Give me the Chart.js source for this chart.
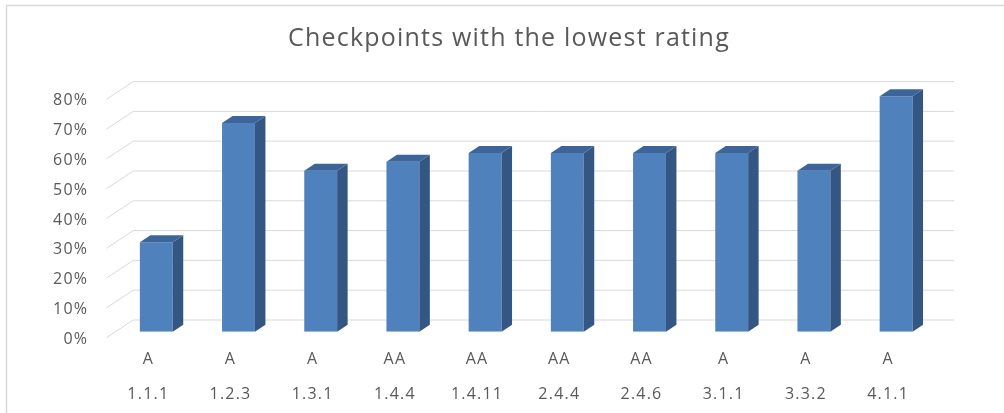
<!DOCTYPE html>
<html>
<head>
<meta charset="utf-8">
<script src="https://cdn.jsdelivr.net/npm/chart.js@4"></script>
<style>
  body { margin: 0; background: #fff; }
  #wrap { width: 1004px; height: 413px; }
</style>
</head>
<body>
<div id="wrap"><canvas id="lowest"></canvas></div>
<script>
const codes = ['1.1.1', '1.2.3', '1.3.1', '1.4.4', '1.4.11', '2.4.4', '2.4.6', '3.1.1', '3.3.2', '4.1.1'];
const levels = ['A', 'A', 'A', 'AA', 'AA', 'AA', 'AA', 'A', 'A', 'A'];
const ratings = [0.30, 0.70, 0.54, 0.57, 0.60, 0.60, 0.60, 0.60, 0.54, 0.79];
const yTicks = [0, 0.1, 0.2, 0.3, 0.4, 0.5, 0.6, 0.7, 0.8];

const textGrey = '#595959';
const gridGrey = '#d9d9d9';

// fake 3d: back wall sits up and to the right of the bar fronts
const wall = { dx: 18, dy: 11.7, frontX: 106.5, frontDy: 6 };
const depth = { dx: 10.5, dy: 7 };

const frame3d = {
  id: 'frame3d',
  beforeDraw(chart) {
    const c = chart.ctx;
    c.save();
    c.fillStyle = '#fff';
    c.fillRect(0, 0, chart.width, chart.height);
    c.strokeStyle = gridGrey;
    c.lineWidth = 1.5;
    c.strokeRect(6.5, 5.5, chart.width + 20, chart.height + 20);
    c.restore();
    // the original text is set a bit wide
    c.letterSpacing = '1.2px';
  },
  beforeDatasetsDraw(chart) {
    const c = chart.ctx;
    const y = chart.scales.y;
    const area = chart.chartArea;
    c.save();
    c.strokeStyle = gridGrey;
    c.lineWidth = 1;
    yTicks.forEach(v => {
      const py = y.getPixelForValue(v);
      const back = py - wall.dy;
      c.beginPath();
      c.moveTo(wall.frontX, py + wall.frontDy);
      c.lineTo(area.left + wall.dx, back);
      c.lineTo(area.right + 17, back);
      c.stroke();
    });
    c.restore();
  },
  afterDatasetsDraw(chart) {
    const c = chart.ctx;
    c.save();
    chart.getDatasetMeta(0).data.forEach(bar => {
      const { x, y, base, width } = bar.getProps(['x', 'y', 'base', 'width'], true);
      const l = x - width / 2, r = x + width / 2;
      c.fillStyle = '#335683';
      c.beginPath();
      c.moveTo(r, y);
      c.lineTo(r + depth.dx, y - depth.dy);
      c.lineTo(r + depth.dx, base - depth.dy);
      c.lineTo(r, base);
      c.closePath();
      c.fill();
      c.fillStyle = '#3d659a';
      c.beginPath();
      c.moveTo(l, y);
      c.lineTo(l + depth.dx, y - depth.dy);
      c.lineTo(r + depth.dx, y - depth.dy);
      c.lineTo(r, y);
      c.closePath();
      c.fill();
    });
    c.restore();
  }
};

new Chart(document.getElementById('lowest'), {
  type: 'bar',
  data: {
    labels: codes.map((code, i) => [levels[i], code]),
    datasets: [{
      label: 'Rating',
      data: ratings,
      backgroundColor: '#4f81bd',
      barPercentage: 0.4,
      categoryPercentage: 1
    }]
  },
  options: {
    responsive: true,
    maintainAspectRatio: false,
    animation: false,
    layout: { padding: { left: 14, right: 0, top: 0, bottom: 0 } },
    plugins: {
      legend: { display: false },
      tooltip: { enabled: false },
      title: {
        display: true,
        text: 'Checkpoints with the lowest rating',
        color: textGrey,
        font: { family: 'Open Sans', size: 25, weight: 'normal', lineHeight: 1.2 },
        padding: { top: 23.5, bottom: 39.8 }
      }
    },
    scales: {
      x: {
        grid: { display: false, drawTicks: false },
        border: { display: false },
        ticks: {
          color: textGrey,
          font: { family: 'Open Sans', size: 16, lineHeight: 2.2 },
          padding: 10,
          labelOffset: -8,
          maxRotation: 0,
          autoSkip: false
        },
        afterFit(scale) { scale.height = 81.3; }
      },
      y: {
        min: 0,
        max: 0.8,
        grid: { display: false, drawTicks: false },
        border: { display: false },
        ticks: {
          stepSize: 0.1,
          color: textGrey,
          font: { family: 'Open Sans', size: 16 },
          padding: 27,
          labelOffset: 7.5,
          callback: v => Math.round(v * 100) + '%'
        },
        afterFit(scale) { scale.width = 101.2; }
      },
      // empty right-hand axis, only keeps the space right of the wall
      spacer: {
        position: 'right',
        grid: { display: false, drawTicks: false },
        border: { display: false },
        ticks: { display: false },
        afterFit(scale) { scale.width = 66.8; }
      }
    }
  },
  plugins: [frame3d]
});
</script>
</body>
</html>
